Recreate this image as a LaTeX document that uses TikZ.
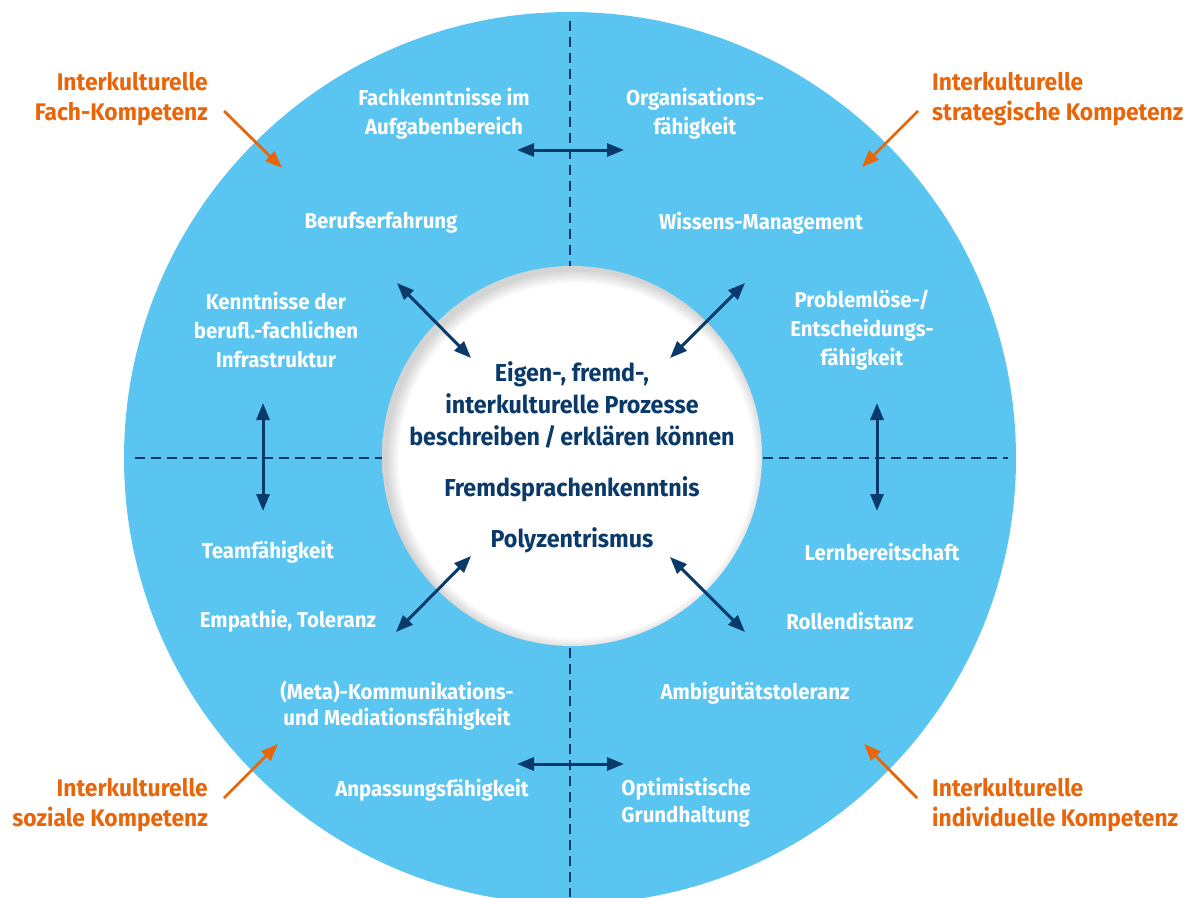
\documentclass[tikz,border=0pt]{standalone}
\usepackage{fontspec}
\setmainfont{Fira Sans}[FakeStretch=0.95]
\usetikzlibrary{arrows.meta}

\definecolor{ringblue}{HTML}{5BC5F2}
\definecolor{navy}{HTML}{0A3A6A}
\definecolor{kompetenz}{HTML}{E8650A}

% soft inner shadow along the rim of the white core
\pgfdeclareradialshading{innershade}{\pgfpoint{1bp}{-1bp}}{%
  color(0bp)=(white); color(23.3bp)=(white); color(25bp)=(black!17); color(50bp)=(black!17)}

\tikzset{
  ringlabel/.style={text=white, font=\bfseries\fontsize{21.5}{29}\selectfont, align=center, inner sep=0pt},
  corelabel/.style={text=navy, font=\bfseries\fontsize{24.5}{32}\selectfont, align=center, inner sep=0pt},
  fieldlabel/.style={text=kompetenz, font=\bfseries\fontsize{24}{30}\selectfont, inner sep=0pt},
  link/.style={draw=navy, line width=3pt, {Triangle[length=17pt,width=13pt]}-{Triangle[length=17pt,width=13pt]}},
  pointer/.style={draw=kompetenz, line width=2.8pt, -{Triangle[length=17pt,width=13pt]}},
  divider/.style={draw=navy, line width=2.5pt, dash pattern=on 10pt off 6pt},
}

\begin{document}
\begin{tikzpicture}[x=1pt,y=-1pt]
\useasboundingbox (0,0) rectangle (1194,897);

% outer ring and white core
\begin{scope}
  \clip (0,0) rectangle (1194,897);
  \fill[ringblue] (570,458) circle[radius=446];
\end{scope}
\shade[shading=innershade] (572,456) circle[radius=190];

% quadrant dividers
\coordinate (dTopA) at (570,21);   \coordinate (dTopB) at (570,266);
\coordinate (dBotA) at (570,648);  \coordinate (dBotB) at (570,897);
\coordinate (dLeftA) at (135,458); \coordinate (dLeftB) at (382,458);
\coordinate (dRightA) at (763,458);\coordinate (dRightB) at (1008,458);
\draw[divider] (dTopA) -- (dTopB);
\draw[divider] (dBotA) -- (dBotB);
\draw[divider] (dLeftA) -- (dLeftB);
\draw[divider] (dRightA) -- (dRightB);

% core
\node[corelabel] (prozesse) at (572,405) {Eigen-, fremd-,\\interkulturelle Prozesse\\beschreiben\,/\,erklären können};
\node[corelabel] (sprache) at (572,489) {Fremdsprachenkenntnis};
\node[corelabel] (poly) at (572,540) {Polyzentrismus};

% ring labels, upper left
\node[ringlabel] (fach) at (444,114) {Fachkenntnisse im\\Aufgabenbereich};
\node[ringlabel] (beruf) at (381,223) {Berufserfahrung};
\node[ringlabel] (infra) at (276,330) {Kenntnisse der\\berufl.-fachlichen\\Infrastruktur};
% upper right
\node[ringlabel] (orga) at (695,114) {Organisations-\\fähigkeit};
\node[ringlabel] (wissen) at (761,223) {Wissens-Management};
\node[ringlabel] (problem) at (862,330) {Problemlöse-/\\Entscheidungs-\\fähigkeit};
% lower left
\node[ringlabel] (team) at (268,552) {Teamfähigkeit};
\node[ringlabel] (empathie) at (288,621) {Empathie, Toleranz};
\node[ringlabel, font=\bfseries\fontsize{21.5}{26}\selectfont] (meta) at (397,706) {(Meta)-Kommunikations-\\und Mediationsfähigkeit};
\node[ringlabel] (anpass) at (432,790) {Anpassungsfähigkeit};
% lower right
\node[ringlabel] (lern) at (882,552) {Lernbereitschaft};
\node[ringlabel] (rolle) at (850,621) {Rollendistanz};
\node[ringlabel] (ambi) at (755,693) {Ambiguitätstoleranz};
\node[ringlabel, align=left, font=\bfseries\fontsize{21.5}{27}\selectfont] (opti) at (686,803) {Optimistische\\Grundhaltung};

% competence fields
\node[fieldlabel, anchor=east, align=right] (fFach) at (208,99) {Interkulturelle\\Fach-Kompetenz};
\node[fieldlabel, anchor=west, align=left] (fStrat) at (932,99) {Interkulturelle\\strategische Kompetenz};
\node[fieldlabel, anchor=east, align=right] (fSozial) at (208,805) {Interkulturelle\\soziale Kompetenz};
\node[fieldlabel, anchor=west, align=left] (fIndiv) at (932,805) {Interkulturelle\\individuelle Kompetenz};

% orange pointers into the ring
\coordinate (pFachA) at (224,111);   \coordinate (pFachB) at (282,168);
\coordinate (pStratA) at (918,111);  \coordinate (pStratB) at (862,167);
\coordinate (pSozA) at (224,798);    \coordinate (pSozB) at (278,744);
\coordinate (pIndA) at (917,798);    \coordinate (pIndB) at (864,744);
\draw[pointer] (pFachA) -- (pFachB);
\draw[pointer] (pStratA) -- (pStratB);
\draw[pointer] (pSozA) -- (pSozB);
\draw[pointer] (pIndA) -- (pIndB);

% navy double arrows
\coordinate (hTopL) at (517,150); \coordinate (hTopR) at (624,150);
\coordinate (hBotL) at (517,764); \coordinate (hBotR) at (624,764);
\coordinate (vLeftT) at (263,403); \coordinate (vLeftB) at (263,511);
\coordinate (vRightT) at (877,403);\coordinate (vRightB) at (877,511);
\coordinate (dTLo) at (397,283); \coordinate (dTLi) at (471,358);
\coordinate (dTRo) at (745,283); \coordinate (dTRi) at (670,358);
\coordinate (dBLo) at (396,632); \coordinate (dBLi) at (471,556);
\coordinate (dBRo) at (745,632); \coordinate (dBRi) at (670,557);
\draw[link] (hTopL) -- (hTopR);
\draw[link] (hBotL) -- (hBotR);
\draw[link] (vLeftT) -- (vLeftB);
\draw[link] (vRightT) -- (vRightB);
\draw[link] (dTLo) -- (dTLi);
\draw[link] (dTRo) -- (dTRi);
\draw[link] (dBLo) -- (dBLi);
\draw[link] (dBRo) -- (dBRi);
\end{tikzpicture}
\end{document}
